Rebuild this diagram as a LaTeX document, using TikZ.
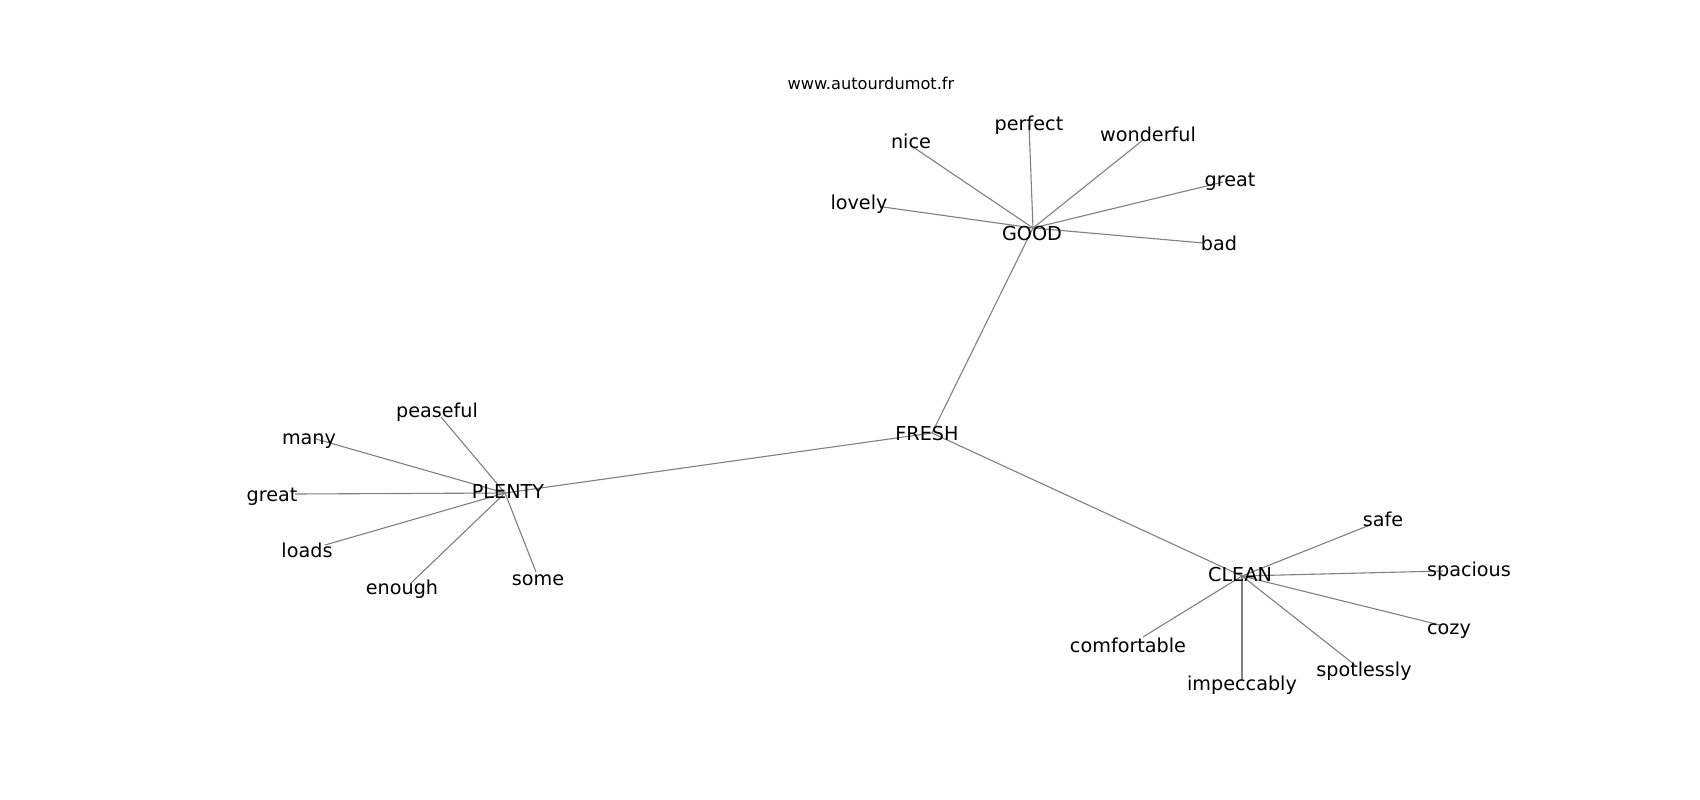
\documentclass[tikz,border=0pt]{standalone}
\usepackage{fontspec}
\setmainfont{DejaVu Sans}
\usetikzlibrary{positioning}

\begin{document}
\begin{tikzpicture}[x=1pt, y=-1pt,
        word/.style={font=\fontsize{19.2}{20}\selectfont, inner sep=0pt},
        site/.style={font=\fontsize{16.2}{17}\selectfont, inner sep=0pt},
        edge/.style={draw=black!50, line width=1.1pt}
      ]
        \path[fill=white] (0,0) rectangle (1700,800);
        \node[site] (site) at (871,83) {www.autourdumot.fr};
        % graph points
        \coordinate (fresh) at (932,433);
        \coordinate (good) at (1033,228);
        \coordinate (plenty) at (505,493);
        \coordinate (clean) at (1242,576);
        \coordinate (nice) at (913,147);
        \coordinate (perfect) at (1029,125);
        \coordinate (wonderful) at (1143,140);
        \coordinate (great1) at (1223,182);
        \coordinate (lovely) at (883,207);
        \coordinate (bad) at (1203,243);
        \coordinate (peaseful) at (441,417);
        \coordinate (many) at (316,439);
        \coordinate (great2) at (295,494);
        \coordinate (loads) at (325,545);
        \coordinate (enough) at (410,584);
        \coordinate (some) at (536,572);
        \coordinate (safe) at (1370,525);
        \coordinate (spacious) at (1443,571);
        \coordinate (cozy) at (1440,625);
        \coordinate (spotlessly) at (1355,665);
        \coordinate (impeccably) at (1242,680);
        \coordinate (comfortable) at (1143,637);
        % edges
        \draw[edge] (fresh) -- (good);
        \draw[edge] (fresh) -- (plenty);
        \draw[edge] (fresh) -- (clean);
        \foreach \w in {nice,perfect,wonderful,great1,lovely,bad}
          \draw[edge] (good) -- (\w);
        \foreach \w in {peaseful,many,great2,loads,enough,some}
          \draw[edge] (plenty) -- (\w);
        \foreach \w in {safe,spacious,cozy,spotlessly,impeccably,comfortable}
          \draw[edge] (clean) -- (\w);
        % labels
        \node[word] (fresh-t) at (927,434) {FRESH};
        \node[word] (good-t) at (1032,234) {GOOD};
        \node[word] (plenty-t) at (508,491) {PLENTY};
        \node[word] (clean-t) at (1240,575) {CLEAN};
        \node[word] (nice-t) at (911,141) {nice};
        \node[word] (perfect-t) at (1029,125) {perfect};
        \node[word] (wonderful-t) at (1148,134) {wonderful};
        \node[word] (great1-t) at (1230,182) {great};
        \node[word] (lovely-t) at (859,204) {lovely};
        \node[word] (bad-t) at (1219,243) {bad};
        \node[word] (peaseful-t) at (437,412) {peaseful};
        \node[word] (many-t) at (309,441) {many};
        \node[word] (great2-t) at (272,497) {great};
        \node[word] (loads-t) at (307,550) {loads};
        \node[word] (enough-t) at (402,589) {enough};
        \node[word] (some-t) at (538,580) {some};
        \node[word] (safe-t) at (1383,519) {safe};
        \node[word] (spacious-t) at (1469,571) {spacious};
        \node[word] (cozy-t) at (1449,631) {cozy};
        \node[word] (spotlessly-t) at (1364,671) {spotlessly};
        \node[word] (impeccably-t) at (1242,685) {impeccably};
        \node[word] (comfortable-t) at (1128,645) {comfortable};
      \end{tikzpicture}
\end{document}
